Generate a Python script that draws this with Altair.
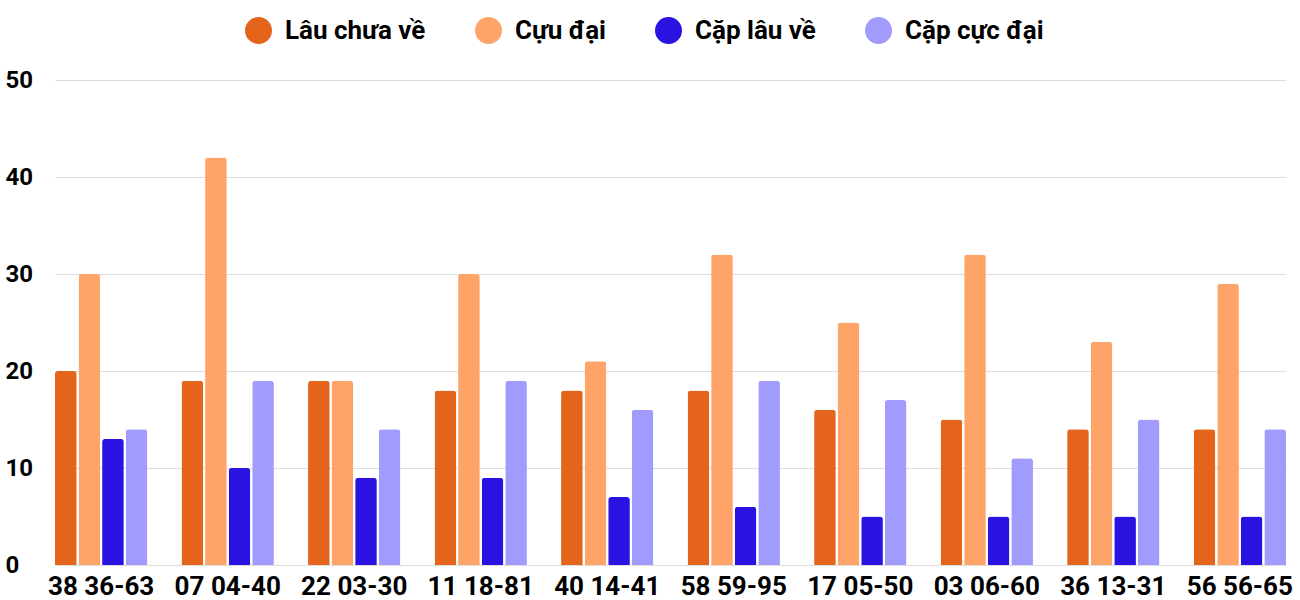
import altair as alt
import pandas as pd

categories = ["38 36-63", "07 04-40", "22 03-30", "11 18-81", "40 14-41",
              "58 59-95", "17 05-50", "03 06-60", "36 13-31", "56 56-65"]
series = ["Lâu chưa về", "Cựu đại", "Cặp lâu về", "Cặp cực đại"]
lau_chua_ve = [20, 19, 19, 18, 18, 18, 16, 15, 14, 14]
cuu_dai = [30, 42, 19, 30, 21, 32, 25, 32, 23, 29]
cap_lau_ve = [13, 10, 9, 9, 7, 6, 5, 5, 5, 5]
cap_cuc_dai = [14, 19, 14, 19, 16, 19, 17, 11, 15, 14]
colors = ["#e3641a", "#ffa468", "#2a12e0", "#a29bfe"]

rows = []
for s, vals in zip(series, [lau_chua_ve, cuu_dai, cap_lau_ve, cap_cuc_dai]):
    for c, v in zip(categories, vals):
        rows.append({"cat": c, "series": s, "value": v})
df = pd.DataFrame(rows)

chart = alt.Chart(df).mark_bar(
    cornerRadiusTopLeft=3, cornerRadiusTopRight=3
).encode(
    x=alt.X("cat:N", sort=categories,
            scale=alt.Scale(paddingInner=0.27, paddingOuter=0),
            axis=alt.Axis(title=None, labelAngle=0, labelFont="Roboto",
                          labelFontSize=26, labelFontWeight="bold",
                          labelColor="#000", domain=False, ticks=False,
                          labelPadding=8, grid=False)),
    xOffset=alt.XOffset("series:N", sort=series,
                        scale=alt.Scale(paddingInner=0.08, paddingOuter=0)),
    y=alt.Y("value:Q", scale=alt.Scale(domain=[0, 50]),
            axis=alt.Axis(title=None, values=[0, 10, 20, 30, 40, 50],
                          labelFont="Roboto", labelFontSize=24,
                          labelFontWeight="bold", labelColor="#000",
                          labelAlign="left", labelPadding=50,
                          domain=False, ticks=False, gridColor="#dddddd")),
    color=alt.Color("series:N", sort=series,
                    scale=alt.Scale(domain=series, range=colors),
                    legend=alt.Legend(title=None, orient="none",
                                      legendX=190, legendY=-63,
                                      direction="horizontal", columns=4,
                                      symbolType="circle", symbolSize=729,
                                      symbolStrokeWidth=0,
                                      labelFont="Roboto", labelFontSize=26,
                                      labelFontWeight="bold",
                                      labelColor="#000", labelOffset=13,
                                      columnPadding=49)),
).properties(
    width=1231, height=485,
    background="white",
    autosize=alt.AutoSizeParams(type="none"),
    padding={"left": 55, "top": 80, "right": 14, "bottom": 35},
).configure_view(stroke=None)

chart.save("out.html", embed_options={"renderer": "svg", "actions": False})
